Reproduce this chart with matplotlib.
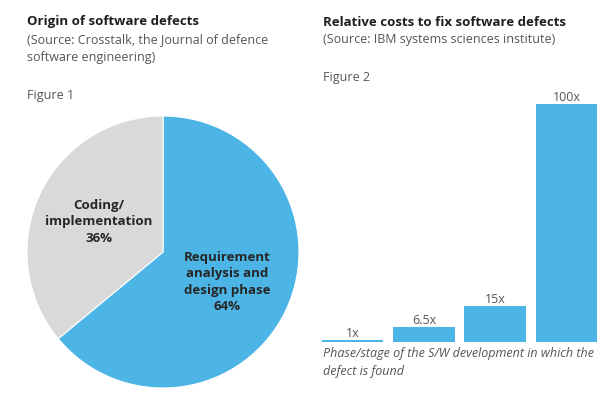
import matplotlib
matplotlib.use("Agg")
import matplotlib.pyplot as plt

# pie data
origin_labels = ["Requirement\nanalysis and\ndesign phase\n64%", "Coding/\nimplementation\n36%"]
origin_share = [64, 36]

# bar data
cost_factor = [1, 6.5, 15, 100]
cost_labels = ["1x", "6.5x", "15x", "100x"]

BLUE = "#4cb5e6"
GREY = "#d9d9d9"
DARK = "#1f1f1f"
MID = "#555555"

plt.rcParams['font.family'] = ['Open Sans', 'DejaVu Sans']

W, H = 607, 393
fig = plt.figure(figsize=(W / 100, H / 100), dpi=100)
fig.patch.set_facecolor("white")

def px(x, y):
    return x / W, 1 - y / H

# headings
fig.text(*px(27, 22), "Origin of software defects", fontsize=9.5, fontweight="bold",
         color=DARK, va="center")
fig.text(*px(27, 40), "(Source: Crosstalk, the Journal of defence", fontsize=9,
         color=MID, va="center")
fig.text(*px(27, 57), "software engineering)", fontsize=9, color=MID, va="center")
fig.text(*px(27, 96), "Figure 1", fontsize=9, color=MID, va="center")

fig.text(*px(323, 22), "Relative costs to fix software defects", fontsize=9.5,
         fontweight="bold", color=DARK, va="center")
fig.text(*px(323, 40), "(Source: IBM systems sciences institute)", fontsize=9,
         color=MID, va="center")
fig.text(*px(323, 77), "Figure 2", fontsize=9, color=MID, va="center")

# pie
cx, cy, r = 163, 252, 136
ax1 = fig.add_axes([(cx - r) / W, 1 - (cy + r) / H, 2 * r / W, 2 * r / H])
wedges, texts = ax1.pie(origin_share, labels=origin_labels, colors=[BLUE, GREY],
                        startangle=90, counterclock=False, labeldistance=0.52,
                        wedgeprops=dict(edgecolor="white", linewidth=0.8),
                        textprops=dict(fontsize=9.5, fontweight="bold", color="#262626"))
for t in texts:
    t.set_ha("center")
    t.set_va("center")
    t.set_multialignment("center")
    t.set_linespacing(1.35)
ax1.set_xlim(-1, 1)
ax1.set_ylim(-1, 1)
ax1.set_aspect("equal")
ax1.axis("off")

# bars
left, right, base, top = 317, 602, 342, 104
ax2 = fig.add_axes([left / W, 1 - base / H, (right - left) / W, (base - top) / H])
pos = list(range(len(cost_factor)))
ax2.bar(pos, cost_factor, width=0.86, color=BLUE)
for p, v, lab in zip(pos, cost_factor, cost_labels):
    ax2.annotate(lab, (p, v), xytext=(0, 0), textcoords="offset points",
                 ha="center", va="bottom", fontsize=9, color=MID)
ax2.set_xlim(-0.5, 3.5)
ax2.set_ylim(0, 100)
ax2.axis("off")

fig.text(*px(323, 354), "Phase/stage of the S/W development in which the",
         fontsize=9, style="italic", color=MID, va="center")
fig.text(*px(323, 372), "defect is found", fontsize=9, style="italic",
         color=MID, va="center")

fig.savefig("out.png", dpi=100)
